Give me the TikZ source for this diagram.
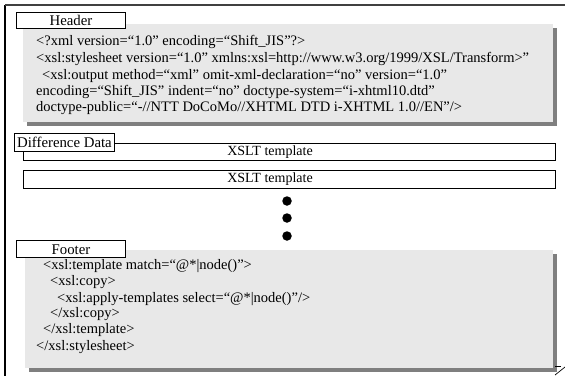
\documentclass[tikz,border=0pt]{standalone}
\usepackage{fontspec}
\setmainfont{Liberation Serif}
\usetikzlibrary{backgrounds}
\definecolor{panelgray}{HTML}{E8E8E8}
\definecolor{shadowgray}{HTML}{7F7F7F}
\definecolor{framegray}{HTML}{404040}
\begin{document}
\begin{tikzpicture}[x=1pt,y=-1pt,
  font=\fontsize{14.5}{16}\selectfont,
  panel/.style={fill=panelgray, draw=none, anchor=north west, inner sep=0pt, outer sep=0pt},
  tab/.style={draw, fill=white, anchor=north west, inner sep=0pt, line width=0.9pt,
    text height=11.5pt, text depth=0.5pt, font=\fontsize{14.8}{16}\selectfont},
  band/.style={draw, fill=white, anchor=north west, inner sep=0pt, line width=0.9pt,
    minimum width=532pt},
  bandlabel/.style={inner sep=0pt, text height=9.5pt, text depth=2.5pt, font=\fontsize{14}{16}\selectfont},
  codeline/.style={anchor=base west, inner sep=0pt},
  dot/.style={circle, fill=black, inner sep=0pt, minimum size=9.5pt}
]
\useasboundingbox (0,0) rectangle (565,375);

% outer frame (only its top and left edges fall inside the page)
\draw[line width=1.4pt, black] (5,380) -- (5,5);
\draw[line width=2pt, framegray] (5,5) -- (570,5);

% --- Header panel ---
\node[panel, minimum width=530pt, minimum height=98pt] (hdrpanel) at (23,24) {};
\node[tab, minimum width=109pt, minimum height=16pt] (hdrtab) at (16,12) {Header};
\node[codeline] (h1) at (36,45) {<?xml version=“1.0” encoding=“Shift\_JIS”?>};
\node[codeline] (h2) at (36,62) {<xsl:stylesheet version=“1.0” xmlns:xsl=http://www.w3.org/1999/XSL/Transform>”};
\node[codeline] (h3) at (42,79) {<xsl:output method=“xml” omit-xml-declaration=“no” version=“1.0”};
\node[codeline] (h4) at (36,95) {encoding=“Shift\_JIS” indent=“no” doctype-system=“i-xhtml10.dtd”};
\node[codeline] (h5) at (36,111) {doctype-public=“-//NTT DoCoMo//XHTML DTD i-XHTML 1.0//EN”/>};

% --- Difference data ---
\node[band, minimum height=17pt] (t1) at (23,143) {};
\node[bandlabel] (t1label) at (270,151.5) {XSLT template};
\node[tab, minimum width=100pt, minimum height=18pt] (difftab) at (14,133) {Difference Data};
\node[band, minimum height=18pt] (t2) at (23,170) {};
\node[bandlabel] (t2label) at (270,179) {XSLT template};
\node[dot] (d1) at (287,201) {};
\node[dot] (d2) at (287,218) {};
\node[dot] (d3) at (287,236) {};

% --- Footer panel ---
\node[panel, minimum width=528pt, minimum height=118pt] (ftrpanel) at (25,250) {};
\node[tab, minimum width=109pt, minimum height=17pt] (ftrtab) at (16,240) {Footer};
\node[codeline] (f1) at (43,269) {<xsl:template match=“@*|node()”>};
\node[codeline] (f2) at (50,285) {<xsl:copy>};
\node[codeline] (f3) at (57,302) {<xsl:apply-templates select=“@*|node()”/>};
\node[codeline] (f4) at (50,317) {</xsl:copy>};
\node[codeline] (f5) at (43,333) {</xsl:template>};
\node[codeline] (f6) at (36,350) {</xsl:stylesheet>};

% drop shadows behind the two grey panels
\begin{scope}[on background layer]
  \foreach \p in {hdrpanel, ftrpanel}
    \fill[shadowgray] ([xshift=3.5pt,yshift=-3.5pt]\p.north west)
      rectangle ([xshift=3.5pt,yshift=-3.5pt]\p.south east);
\end{scope}

% resize grip in the lower right corner
\draw[line width=0.7pt] (555,366) -- (561,366);
\draw[line width=0.7pt] (555,375) -- (565,367);
\end{tikzpicture}
\end{document}
